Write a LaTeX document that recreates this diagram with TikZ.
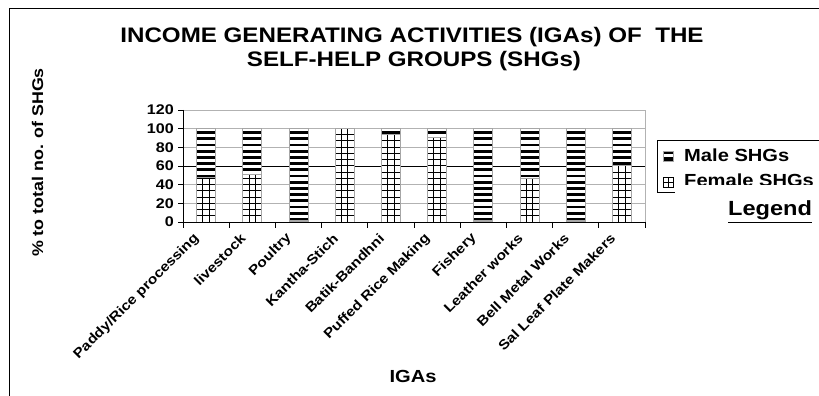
\documentclass[tikz,border=0pt]{standalone}
\usepackage{fontspec}
\setmainfont{Liberation Sans}[FakeStretch=1.15]
\usetikzlibrary{positioning}
\tikzset{
  gridline/.style={draw=gray!60, line width=0.8pt},
  axisline/.style={draw=black, line width=0.9pt},
  barline/.style={draw=gray!70, line width=0.8pt},
  gridpat/.style={draw=black, line width=0.9pt},
  charttitle/.style={anchor=base, inner sep=0pt, font=\bfseries\fontsize{21}{24}\selectfont},
  axistitle/.style={anchor=base, inner sep=0pt, font=\bfseries\fontsize{17.5}{20}\selectfont},
  ticklabel/.style={anchor=east, inner sep=0pt, font=\bfseries\fontsize{14}{16}\selectfont},
  catlabel/.style={anchor=east, rotate=45, inner sep=0pt, font=\bfseries\fontsize{13.5}{15}\selectfont},
  legendtext/.style={anchor=base west, inner sep=0pt, font=\bfseries\fontsize{17.5}{20}\selectfont},
}

\begin{document}
\begin{tikzpicture}[x=1pt, y=1pt]
  \clip (0,0) rectangle (819,396);
  \fill[white] (0,0) rectangle (819,396);
  % outer frame
  \draw[black, line width=0.9pt] (9,-5) |- (830,388);

  % title
  \node[charttitle] (title1) at (412,353) {INCOME GENERATING ACTIVITIES (IGAs) OF \ THE};
  \node[charttitle] (title2) at (414,329) {SELF-HELP GROUPS (SHGs)};
  \node[charttitle, rotate=90, font=\bfseries\fontsize{15.5}{18}\selectfont] (ylabel) at (43,233.5) {\% to total no. of SHGs};
  \node[axistitle] (xlabel) at (413,13) {IGAs};

  % grid and frame of the plot
  \foreach \v in {20,40,80,100,120}
    \draw[gridline] (183,174+\v*0.933) -- (645,174+\v*0.933);
  \draw[black, line width=0.8pt] (183,174+60*0.933) -- (645,174+60*0.933);
  \draw[gridline] (645,174) -- (645,286);

  % bars: female part below, male part on top
  \foreach \i/\f in {1/48,2/51,3/0,4/100,5/94,6/91,7/0,8/47,9/0,10/61}{
    \pgfmathsetmacro{\xl}{183+(\i-0.5)*46.2-9.5}
    \pgfmathsetmacro{\xr}{\xl+19}
    \pgfmathsetmacro{\yf}{174+\f*0.933}
    \ifnum\f<100
      \begin{scope}
        \clip (\xl,\yf) rectangle (\xr,267.3);
        \fill[white] (\xl,\yf) rectangle (\xr,267.3);
        \foreach \s in {0,...,15}
          \fill[black] (\xl,267.3-2.6-\s*6.2) rectangle (\xr,267.3-5.4-\s*6.2);
      \end{scope}
      \draw[barline] (\xl,\yf) rectangle (\xr,267.3);
    \fi
    \ifnum\f>0
      \begin{scope}
        \clip (\xl,174) rectangle (\xr,\yf);
        \fill[white] (\xl,174) rectangle (\xr,\yf);
        \foreach \s in {0,...,16}
          \draw[gridpat] (\xl,174+\s*6.25) -- (\xr,174+\s*6.25);
        \foreach \s in {0,...,3}
          \draw[gridpat] (\xl+\s*6.333,174) -- (\xl+\s*6.333,\yf);
      \end{scope}
      \draw[barline] (\xl,174) rectangle (\xr,\yf);
    \else
      \draw[gray!70, line width=1.8pt] (\xl,175) -- (\xr,175);
    \fi
  }

  % axes
  \draw[axisline] (183,286) -- (183,174) -- (645,174);
  \foreach \v in {0,20,...,120}{
    \draw[axisline] (178,174+\v*0.933) -- (183,174+\v*0.933);
    \node[ticklabel] (tick\v) at (174,174+\v*0.933) {\v};
  }
  \foreach \k in {0,...,10}
    \draw[axisline] (183+\k*46.2,174) -- (183+\k*46.2,168);

  % category names
  \foreach \i/\name in {1/Paddy\slash Rice processing, 2/livestock, 3/Poultry,
      4/Kantha-Stich, 5/Batik-Bandhni, 6/Puffed Rice Making, 7/Fishery,
      8/Leather works, 9/Bell Metal Works, 10/Sal Leaf Plate Makers}
    \node[catlabel] (cat\i) at (183+\i*46.2-23.1-9,160) {\name};

  % legend
  \draw[black, line width=0.8pt] (657,204) rectangle (830,256);
  \fill[black] (663,235) rectangle (673,245);
  \fill[white] (663,239) rectangle (673,241.5);
  \draw[gray!70, line width=0.6pt] (663,235) rectangle (673,245);
  \draw[black, line width=0.8pt] (663,209) rectangle (673,219) (668,209) -- (668,219) (663,214) -- (673,214);
  \node[legendtext] (male) at (684,234) {Male SHGs};
  \node[legendtext] (female) at (684,209) {Female SHGs};
  \fill[white] (675,165) rectangle (830,211);
  \node[legendtext, font=\bfseries\fontsize{20.5}{23}\selectfont] (legend) at (728,180) {\underline{Legend}};
\end{tikzpicture}
\end{document}
